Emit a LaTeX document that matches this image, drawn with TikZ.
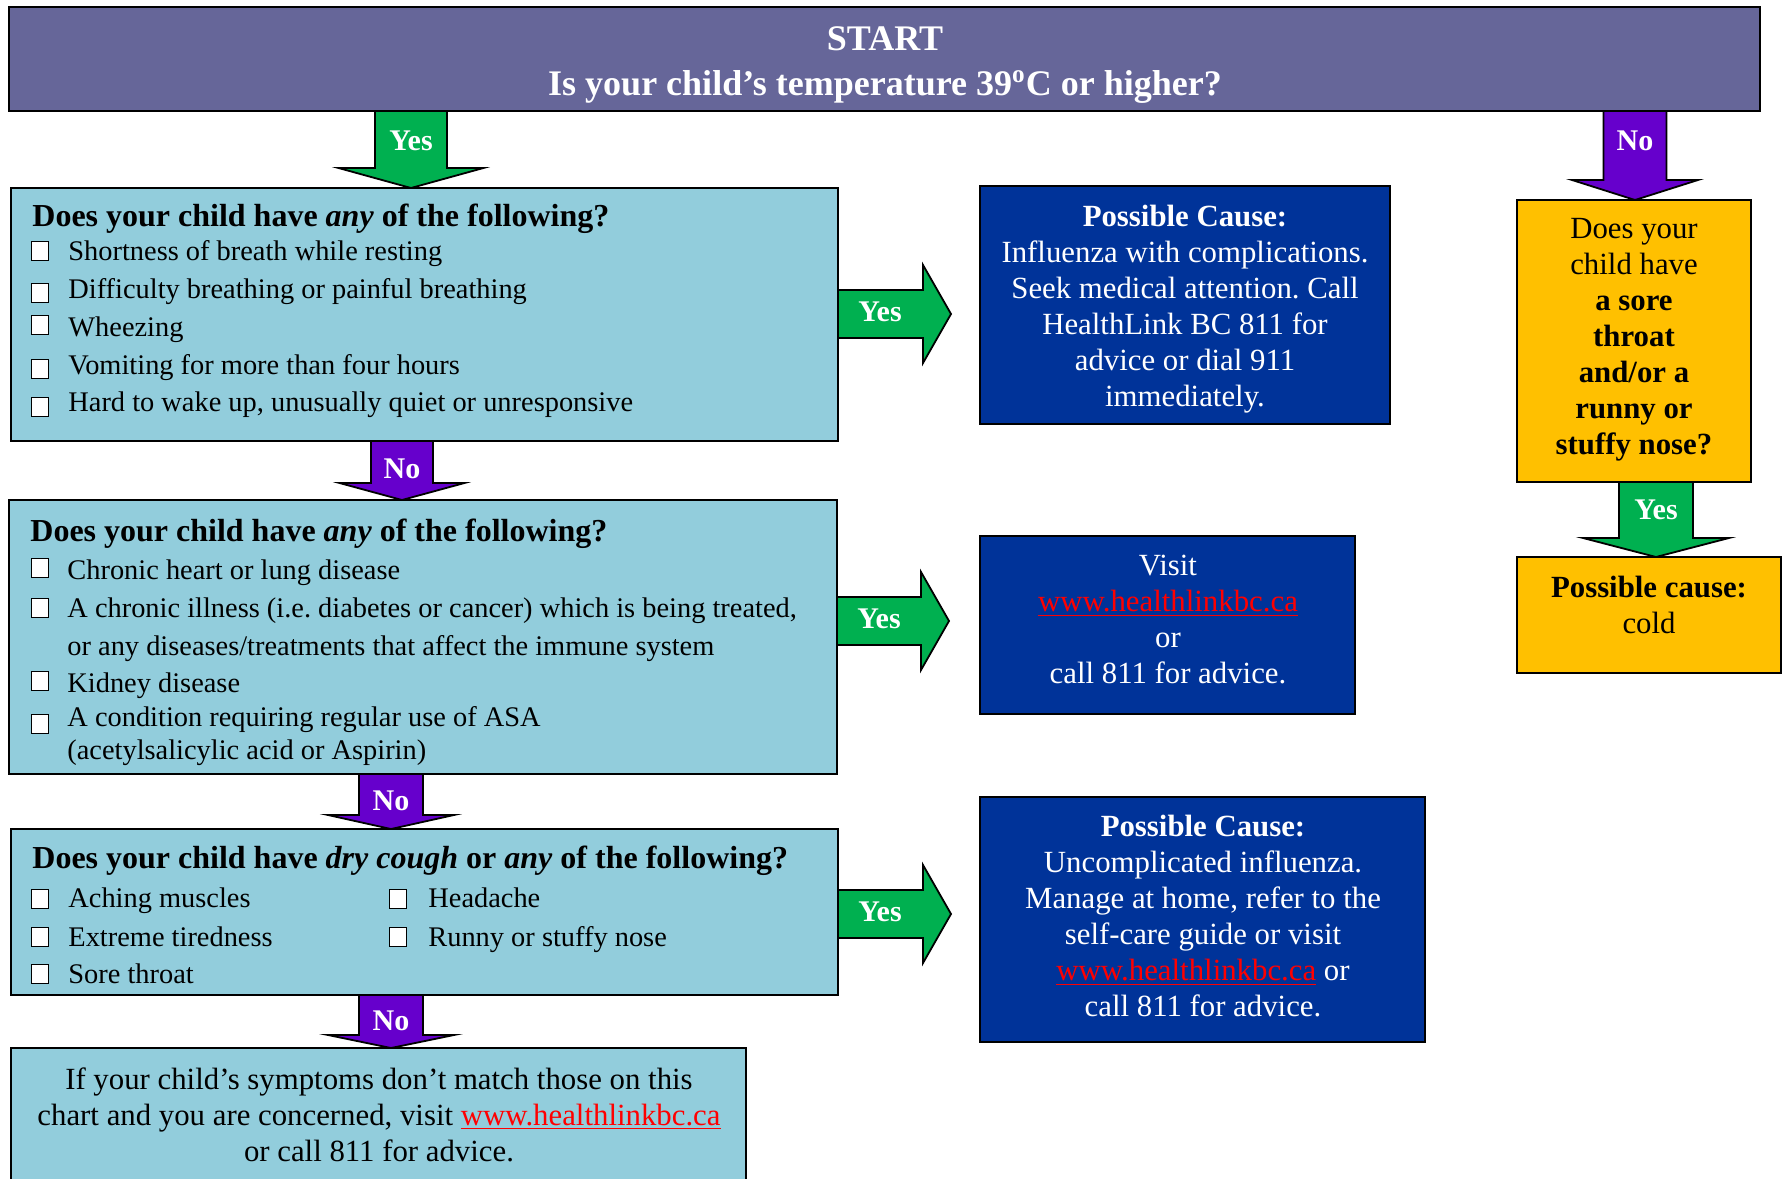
\documentclass[tikz,border=0pt]{standalone}
\usepackage{fontspec}
\setmainfont{Liberation Serif}
\usetikzlibrary{calc}
\frenchspacing
\definecolor{startc}{RGB}{102,102,153}
\definecolor{lblue}{RGB}{146,205,220}
\definecolor{dblue}{RGB}{0,51,153}
\definecolor{ylw}{RGB}{255,192,0}
\definecolor{grn}{RGB}{0,176,80}
\definecolor{prp}{RGB}{102,0,204}
\definecolor{lnk}{RGB}{255,0,0}
\pgfdeclarelayer{bg}
\pgfsetlayers{bg,main}
\newcommand\mylink{\textcolor{lnk}{\underline{www.healthlinkbc.ca}}}
% from, to, x, half shaft, half head, head length, colour
\newcommand\myvarrow[7]{%
  \coordinate (vx) at (#3,0);
  \filldraw[arrowline,fill=#7]
    ($(vx |- #1.south)+(-#4,0)$) -- ($(vx |- #1.south)+(#4,0)$)
    -- ($(vx |- #2.north)+(#4,-#6)$) -- ($(vx |- #2.north)+(#5,-#6)$)
    -- (vx |- #2.north) -- ($(vx |- #2.north)+(-#5,-#6)$)
    -- ($(vx |- #2.north)+(-#4,-#6)$) -- cycle;}
% from, to, y, half shaft, half head, head length, gap, colour
\newcommand\myharrow[8]{%
  \coordinate (hy) at (0,#3);
  \coordinate (tip) at ($(hy -| #2.west)+(-#7,0)$);
  \filldraw[arrowline,fill=#8]
    ($(hy -| #1.east)+(0,-#4)$) -- ($(tip)+(-#6,-#4)$) -- ($(tip)+(-#6,-#5)$)
    -- (tip) -- ($(tip)+(-#6,#5)$) -- ($(tip)+(-#6,#4)$)
    -- ($(hy -| #1.east)+(0,#4)$) -- cycle;}
\begin{document}
\begin{tikzpicture}[x=0.5pt,y=-0.5pt,
  box/.style={draw=black,line width=1.3pt,anchor=north west,inner sep=0pt,outer sep=0pt},
  arrowline/.style={draw=black,line width=0.9pt,line join=miter},
  lbl/.style={text=white,font=\bfseries\fontsize{15}{18}\selectfont,inner sep=0pt},
  ttl/.style={anchor=west,inner sep=0pt,font=\bfseries\fontsize{16}{19}\selectfont,text height=0.7em,text depth=0.22em},
  itm/.style={anchor=west,inner sep=0pt,font=\fontsize{14.2}{17}\selectfont,text height=0.7em,text depth=0.22em},
  chk/.style={draw=black,fill=white,line width=0.9pt,minimum width=8.5pt,minimum height=9.5pt,inner sep=0pt},
  para/.style={align=center,inner sep=0pt,font=\fontsize{15.4}{18}\selectfont},
  hd/.style={text=white,inner sep=0pt,font=\bfseries\fontsize{18}{22}\selectfont}]
\useasboundingbox (0,0) rectangle (1783,1178);

% boxes
\node[box,fill=startc,minimum width=875.5pt,minimum height=52pt] (start) at (9,7) {};
\node[box,fill=lblue,minimum width=413.5pt,minimum height=126.5pt] (b1) at (11,188) {};
\node[box,fill=lblue,minimum width=414pt,minimum height=137pt] (b2) at (9,500) {};
\node[box,fill=lblue,minimum width=413.5pt,minimum height=83pt] (b3) at (11,829) {};
\node[box,fill=lblue,minimum width=367.5pt,minimum height=71pt] (b4) at (11,1048) {};
\node[box,fill=dblue,minimum width=205pt,minimum height=119pt] (c1) at (980,186) {};
\node[box,fill=dblue,minimum width=187.5pt,minimum height=89pt] (c2) at (980,536) {};
\node[box,fill=dblue,minimum width=222.5pt,minimum height=122.5pt] (c3) at (980,797) {};
\node[box,fill=ylw,minimum width=117pt,minimum height=141pt] (y1) at (1517,200) {};
\node[box,fill=ylw,minimum width=132pt,minimum height=58pt] (y2) at (1517,557) {};

% arrows
\begin{pgfonlayer}{bg}
\myvarrow{start}{b1}{411}{36}{72.5}{20}{grn}
\myvarrow{start}{y1}{1635}{31.5}{63}{20}{prp}
\myvarrow{b1}{b2}{402}{31}{62.5}{17}{prp}
\myvarrow{b2}{b3}{391}{32}{63}{14}{prp}
\myvarrow{b3}{b4}{391}{32}{63}{13}{prp}
\myvarrow{y1}{y2}{1656}{37}{73}{19}{grn}
\myharrow{b1}{c1}{314}{24}{49}{28}{29}{grn}
\myharrow{b2}{c2}{621}{24}{49}{28}{31}{grn}
\myharrow{b3}{c3}{914}{24}{49}{28}{29}{grn}
\end{pgfonlayer}

% arrow labels
\node[lbl] (l1) at (411,141) {Yes};
\node[lbl] (l2) at (1635,141) {No};
\node[lbl] (l3) at (402,469) {No};
\node[lbl] (l4) at (391,801) {No};
\node[lbl] (l5) at (391,1021) {No};
\node[lbl] (l6) at (1656,510) {Yes};
\node[lbl] (l7) at (880,312) {Yes};
\node[lbl] (l8) at (879,619) {Yes};
\node[lbl] (l9) at (880,912) {Yes};

% start text
\node[hd] (t1) at (885,38.5) {START};
\node[hd] (t2) at (885,87) {Is your child’s temperature 39\textsuperscript{o}C or higher?};

% box 1
\node[ttl] (b1t) at (32,222) {Does your child have \textit{any} of the following?};
\node[itm] (b1i1) at (68,256) {Shortness of breath while resting};
\node[itm] (b1i2) at (68,294) {Difficulty breathing or painful breathing};
\node[itm] (b1i3) at (68,332) {Wheezing};
\node[itm] (b1i4) at (68,370) {Vomiting for more than four hours};
\node[itm] (b1i5) at (68,407) {Hard to wake up, unusually quiet or unresponsive};
\node[chk] (k11) at (40,251) {};
\node[chk] (k12) at (40,293) {};
\node[chk] (k13) at (40,325) {};
\node[chk] (k14) at (40,369) {};
\node[chk] (k15) at (40,407) {};

% box 2
\node[ttl] (b2t) at (30,537) {Does your child have \textit{any} of the following?};
\node[itm] (b2i1) at (67,575) {Chronic heart or lung disease};
\node[itm] (b2i2) at (67,613) {A chronic illness (i.e. diabetes or cancer) which is being treated,};
\node[itm] (b2i3) at (67,651) {or any diseases/treatments that affect the immune system};
\node[itm] (b2i4) at (67,688) {Kidney disease};
\node[itm] (b2i5) at (67,722) {A condition requiring regular use of ASA};
\node[itm] (b2i6) at (67,755) {(acetylsalicylic acid or Aspirin)};
\node[chk] (k21) at (40,568) {};
\node[chk] (k22) at (40,608) {};
\node[chk] (k23) at (40,681) {};
\node[chk] (k24) at (40,724) {};

% box 3
\node[ttl] (b3t) at (32,864) {Does your child have \textit{dry cough} or \textit{any} of the following?};
\node[itm] (b3i1) at (68,903) {Aching muscles};
\node[itm] (b3i2) at (68,942) {Extreme tiredness};
\node[itm] (b3i3) at (68,979) {Sore throat};
\node[itm] (b3i4) at (428,903) {Headache};
\node[itm] (b3i5) at (428,942) {Runny or stuffy nose};
\node[chk] (k31) at (40,899) {};
\node[chk] (k32) at (40,937) {};
\node[chk] (k33) at (40,974) {};
\node[chk] (k34) at (398,899) {};
\node[chk] (k35) at (398,937) {};

% box 4
\node[para] (b4t) at (379,1115) {If your child’s symptoms don’t match those on this\\ chart and you are concerned, visit \mylink\\ or call 811 for advice.};

% blue boxes
\node[para,text=white] (c1t) at (1185,309) {\textbf{Possible Cause:}\\ Influenza with complications.\\ Seek medical attention. Call\\ HealthLink BC 811 for\\ advice or dial 911\\ immediately.};
\node[para,text=white] (c2t) at (1168,620) {Visit\\ \mylink\\ or\\ call 811 for advice.};
\node[para,text=white] (c3t) at (1203,916.5) {\textbf{Possible Cause:}\\ Uncomplicated influenza.\\ Manage at home, refer to the\\ self-care guide or visit\\ \mylink{} or\\ call 811 for advice.};

% yellow boxes
\node[para] (y1t) at (1634,340) {Does your\\ child have\\ \textbf{a sore}\\ \textbf{throat}\\ \textbf{and/or a}\\ \textbf{runny or}\\ \textbf{stuffy nose?}};
\node[para] (y2t) at (1649,605) {\textbf{Possible cause:}\\ cold};
\end{tikzpicture}
\end{document}
